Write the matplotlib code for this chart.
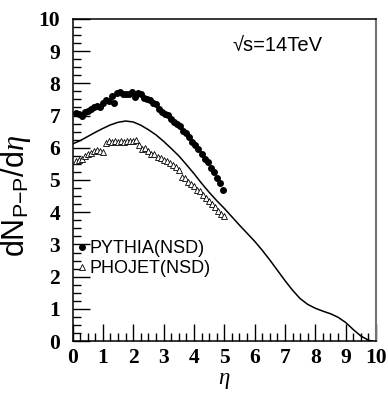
import numpy as np
import matplotlib
matplotlib.use("Agg")
import matplotlib.pyplot as plt
from matplotlib.ticker import MultipleLocator

plt.rcParams["mathtext.fontset"] = "custom"
plt.rcParams["mathtext.rm"] = "Liberation Sans"
plt.rcParams["mathtext.sf"] = "Liberation Sans"
plt.rcParams["mathtext.it"] = "Liberation Serif:italic"

# PYTHIA (NSD) points
pythia_eta = [0.1, 0.2, 0.3, 0.4, 0.5, 0.6, 0.7, 0.8, 0.9, 1.0,
              1.1, 1.2, 1.3, 1.35, 1.45, 1.55, 1.65, 1.75, 1.85, 1.95,
              2.05, 2.15, 2.25, 2.35, 2.45, 2.55, 2.65, 2.75, 2.85, 2.95,
              3.05, 3.15, 3.25, 3.35, 3.45, 3.55, 3.65, 3.75, 3.85, 3.95,
              4.05, 4.15, 4.25, 4.35, 4.45, 4.55, 4.65, 4.75, 4.85, 4.95]
pythia_val = [7.08, 7.05, 7.00, 7.10, 7.15, 7.20, 7.25, 7.30, 7.28, 7.38,
              7.48, 7.45, 7.60, 7.38, 7.70, 7.72, 7.68, 7.66, 7.67, 7.72,
              7.56, 7.70, 7.68, 7.55, 7.50, 7.47, 7.40, 7.35, 7.20, 7.12,
              7.06, 7.02, 6.88, 6.80, 6.75, 6.68, 6.52, 6.45, 6.33, 6.18,
              6.10, 5.95, 5.82, 5.65, 5.55, 5.38, 5.25, 5.05, 4.92, 4.70]

# PHOJET (NSD) points
phojet_eta = [0.1, 0.2, 0.3, 0.4, 0.5, 0.6, 0.7, 0.8, 0.9, 1.0,
              1.1, 1.2, 1.3, 1.4, 1.5, 1.6, 1.7, 1.8, 1.9, 2.0,
              2.1, 2.2, 2.3, 2.4, 2.5, 2.6, 2.7, 2.8, 2.9, 3.0,
              3.1, 3.2, 3.3, 3.4, 3.5, 3.6, 3.7, 3.8, 3.9, 4.0,
              4.1, 4.2, 4.3, 4.4, 4.5, 4.6, 4.7, 4.8, 4.9, 5.0]
phojet_val = [5.60, 5.62, 5.65, 5.75, 5.80, 5.85, 5.90, 5.92, 5.90, 5.88,
              6.15, 6.20, 6.18, 6.20, 6.18, 6.20, 6.18, 6.20, 6.20, 6.22,
              6.25, 6.10, 5.95, 5.98, 5.90, 5.82, 5.80, 5.72, 5.68, 5.62,
              5.60, 5.52, 5.45, 5.40, 5.30, 5.10, 5.05, 4.95, 4.88, 4.80,
              4.70, 4.65, 4.52, 4.45, 4.35, 4.25, 4.15, 4.05, 3.95, 3.88]

# solid curve
curve_eta = [0.0, 0.25, 0.5, 0.75, 1.0, 1.25, 1.5, 1.75, 2.0, 2.25,
             2.5, 2.75, 3.0, 3.25, 3.5, 3.75, 4.0, 4.25, 4.5, 4.75,
             5.0, 5.25, 5.5, 5.75, 6.0, 6.25, 6.5, 6.75, 7.0, 7.25,
             7.5, 7.75, 8.0, 8.25, 8.5, 8.75, 9.0, 9.25, 9.5, 9.75, 9.9]
curve_val = [6.12, 6.22, 6.35, 6.48, 6.60, 6.71, 6.79, 6.83, 6.80, 6.70,
             6.56, 6.40, 6.20, 5.98, 5.75, 5.48, 5.20, 4.90, 4.62, 4.36,
             4.12, 3.86, 3.60, 3.35, 3.10, 2.82, 2.52, 2.20, 1.88, 1.58,
             1.32, 1.14, 1.02, 0.93, 0.85, 0.74, 0.58, 0.36, 0.16, 0.03, 0.0]

fig = plt.figure(figsize=(3.88, 3.93), dpi=100)
ax = fig.add_axes([0.187, 0.132, 0.782, 0.820])

ax.plot(curve_eta, curve_val, color="black", lw=1.1)
ax.plot(pythia_eta, pythia_val, "o", color="black", ms=4.0, ls="none",
        label="PYTHIA(NSD)")
ax.plot(phojet_eta, phojet_val, "^", mfc="white", mec="black", mew=0.6,
        ms=4.8, ls="none", label="PHOJET(NSD)")

ax.set_xlim(0, 10)
ax.set_ylim(0, 10)
ax.xaxis.set_major_locator(MultipleLocator(1))
ax.xaxis.set_minor_locator(MultipleLocator(0.25))
ax.yaxis.set_major_locator(MultipleLocator(1))
ax.yaxis.set_minor_locator(MultipleLocator(0.25))
ax.tick_params(which="both", direction="in", top=False, right=False, width=1)
ax.tick_params(which="major", length=12)
ax.tick_params(axis="y", which="major", pad=9)
ax.tick_params(axis="x", which="major", pad=5)
ax.tick_params(which="minor", length=6)
for lab in ax.get_xticklabels() + ax.get_yticklabels():
    lab.set_family("Liberation Serif")
    lab.set_fontweight("bold")
    lab.set_fontsize(15.5)

for s in ax.spines.values():
    s.set_linewidth(1.1)
ax.spines["right"].set_color("0.45")
ax.spines["right"].set_linewidth(1.5)

ax.set_xlabel(r"$\eta$", fontsize=16.5)
ax.xaxis.set_label_coords(0.5, -0.083)
ax.set_ylabel(r"dN$_{\mathrm{P{-}P}}$/d$\eta$", fontsize=22,
              family="Liberation Sans")
ax.yaxis.set_label_coords(-0.13, 0.45)

ax.text(0.675, 0.918, "√s=14TeV", transform=ax.transAxes, ha="center",
        va="center", fontsize=14.5, family=["Liberation Sans", "DejaVu Sans"])

leg = ax.legend(loc="upper left", bbox_to_anchor=(-0.01, 0.335), frameon=False,
                handlelength=0.6, handletextpad=0.1, labelspacing=0.15,
                borderaxespad=0, markerscale=1.0,
                prop={"family": "Liberation Sans", "size": 13})

fig.savefig("out.png", dpi=100)
